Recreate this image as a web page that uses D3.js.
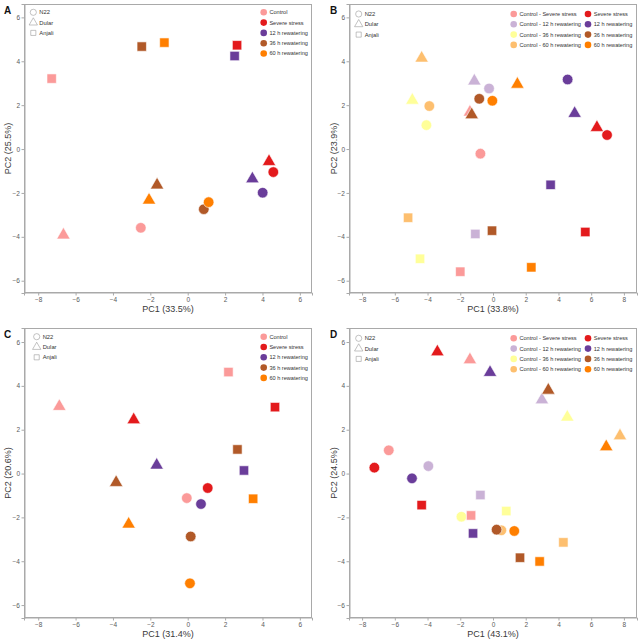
<!DOCTYPE html>
<html><head><meta charset="utf-8">
<script src="https://cdn.jsdelivr.net/npm/d3@7"></script>
<style>body{margin:0;background:#fff}svg{display:block;font-family:"Liberation Sans",Arial,Helvetica,sans-serif}</style>
</head><body><svg id="c" width="642" height="642"></svg>
<script>
// ---------- data ----------
const genotypes = ["N22", "Dular", "Anjali"];
const groupsAC = ["Control", "Severe stress", "12 h rewatering", "36 h rewatering", "60 h rewatering"];
const colorsAC = ["#FB9A99", "#E31A1C", "#6A3D9A", "#B15928", "#FF7F00"];
const groupsBD = ["Control - Severe stress", "Control - 12 h rewatering", "Control - 36 h rewatering", "Control - 60 h rewatering",
                  "Severe stress", "12 h rewatering", "36 h rewatering", "60 h rewatering"];
const colorsBD = ["#FB9A99", "#CAB2D6", "#FFFF99", "#FDBF6F", "#E31A1C", "#6A3D9A", "#B15928", "#FF7F00"];
const xTicksAC = [-8, -6, -4, -2, 0, 2, 4, 6];
const xTicksBD = [-8, -6, -4, -2, 0, 2, 4, 6, 8];
const yTicks = [-6, -4, -2, 0, 2, 4, 6];

// Panel A (PC1 33.5 %, PC2 25.5 %)
const A_genotype = ["N22","N22","N22","N22","N22","Dular","Dular","Dular","Dular","Dular","Anjali","Anjali","Anjali","Anjali","Anjali"];
const A_group = ["Control","Severe stress","12 h rewatering","36 h rewatering","60 h rewatering",
                 "Control","Severe stress","12 h rewatering","36 h rewatering","60 h rewatering",
                 "Control","Severe stress","12 h rewatering","36 h rewatering","60 h rewatering"];
const A_pc1 = [-2.51, 4.58, 4.01, 0.86, 1.12, -6.65, 4.35, 3.46, -1.64, -2.07, -7.28, 2.64, 2.51, -2.46, -1.25];
const A_pc2 = [-3.59, -1.05, -1.99, -2.74, -2.42, -3.92, -0.57, -1.36, -1.64, -2.33, 3.21, 4.73, 4.24, 4.67, 4.85];

// Panel B (PC1 33.8 %, PC2 23.9 %)
const B_genotype = ["N22","N22","N22","N22","N22","N22","N22","N22",
                    "Dular","Dular","Dular","Dular","Dular","Dular","Dular","Dular",
                    "Anjali","Anjali","Anjali","Anjali","Anjali","Anjali","Anjali","Anjali"];
const B_group = [].concat(groupsBD, groupsBD, groupsBD);
const B_pc1 = [-0.77, -0.24, -4.07, -3.89, 6.97, 4.56, -0.84, -0.04,
               -1.41, -1.14, -4.93, -4.36, 6.35, 4.99, -1.30, 1.49,
               -2.00, -1.08, -4.46, -5.19, 5.64, 3.52, -0.06, 2.34];
const B_pc2 = [-0.21, 2.76, 1.09, 1.96, 0.64, 3.17, 2.29, 2.20,
               1.68, 3.10, 2.22, 4.14, 0.98, 1.62, 1.56, 2.95,
               -5.59, -3.87, -5.00, -3.13, -3.78, -1.63, -3.72, -5.39];

// Panel C (PC1 31.4 %, PC2 20.6 %)
const C_genotype = A_genotype.slice();
const C_group = A_group.slice();
const C_pc1 = [-0.05, 1.07, 0.71, 0.16, 0.12, -6.87, -2.89, -1.66, -3.83, -3.16, 2.18, 4.67, 3.01, 2.66, 3.50];
const C_pc2 = [-1.12, -0.66, -1.39, -2.87, -5.01, 3.06, 2.45, 0.38, -0.41, -2.31, 4.63, 3.03, 0.14, 1.10, -1.15];

// Panel D (PC1 43.1 %, PC2 24.5 %)
const D_genotype = B_genotype.slice();
const D_group = B_group.slice();
const D_pc1 = [-6.37, -3.95, -1.93, 0.51, -7.25, -4.95, 0.22, 1.30,
               -1.41, 2.99, 4.54, 7.76, -3.40, -0.18, 3.38, 6.92,
               -1.34, -0.77, 0.81, 4.30, -4.36, -1.22, 1.65, 2.85];
const D_pc2 = [1.06, 0.34, -1.97, -2.59, 0.27, -0.22, -2.56, -2.62,
               5.19, 3.36, 2.57, 1.72, 5.55, 4.61, 3.80, 1.22,
               -1.91, -0.98, -1.71, -3.14, -1.44, -2.73, -3.84, -4.01];

// ---------- drawing ----------
const svg = d3.select("#c");
const symMap = {"N22": d3.symbolCircle, "Dular": d3.symbolTriangle, "Anjali": d3.symbolSquare};
const sizeMap = {"N22": 88, "Dular": 78, "Anjali": 88};

const panels = [
  {letter:"A", box:[24,312,4,293], xd:[-8.76,6.65], yd:[-6.56,6.61], xt:xTicksAC, groups:groupsAC, colors:colorsAC,
   g:A_genotype, grp:A_group, x:A_pc1, y:A_pc2, xl:"PC1 (33.5%)", yl:"PC2 (25.5%)",
   letterPos:[4,13.5], shapeLeg:[33.3,12.3], colLeg:[263.7,12.3], cols:1, ytitleX:10.5},
  {letter:"B", box:[349,637,4,293], xd:[-8.8,8.8], yd:[-6.56,6.61], xt:xTicksBD, groups:groupsBD, colors:colorsBD,
   g:B_genotype, grp:B_group, x:B_pc1, y:B_pc2, xl:"PC1 (33.8%)", yl:"PC2 (23.9%)",
   letterPos:[330,13.5], shapeLeg:[358.7,14], colLeg:[513.7,14], cols:2, ytitleX:337},
  {letter:"C", box:[24,312,328,618], xd:[-8.76,6.65], yd:[-6.59,6.64], xt:xTicksAC, groups:groupsAC, colors:colorsAC,
   g:C_genotype, grp:C_group, x:C_pc1, y:C_pc2, xl:"PC1 (31.4%)", yl:"PC2 (20.6%)",
   letterPos:[4,338], shapeLeg:[36.7,336.7], colLeg:[263.7,336.7], cols:1, ytitleX:10.5},
  {letter:"D", box:[349,637,328,618], xd:[-8.8,8.8], yd:[-6.59,6.64], xt:xTicksBD, groups:groupsBD, colors:colorsBD,
   g:D_genotype, grp:D_group, x:D_pc1, y:D_pc2, xl:"PC1 (43.1%)", yl:"PC2 (24.5%)",
   letterPos:[330,338], shapeLeg:[358.7,338.3], colLeg:[513.7,338.3], cols:2, ytitleX:337}
];

const frameCol = "#a9a9a9", tickCol = "#5a5a5a";

panels.forEach(p => {
  const [L, R, T, B] = p.box;
  const x = d3.scaleLinear().domain(p.xd).range([L, R]);
  const y = d3.scaleLinear().domain(p.yd).range([B, T]);
  const color = d3.scaleOrdinal().domain(p.groups).range(p.colors);
  const g = svg.append("g");

  g.append("rect").attr("x", L + 0.5).attr("y", T + 0.5).attr("width", R - L - 1).attr("height", B - T - 1)
    .attr("fill", "none").attr("stroke", frameCol).attr("stroke-width", 1);

  const ax = g.append("g").attr("transform", `translate(0,${B - 0.5})`)
    .call(d3.axisBottom(x).tickValues(p.xt).tickSize(3).tickPadding(1.5).tickFormat(d3.format("d")));
  const ay = g.append("g").attr("transform", `translate(${L + 0.5},0)`)
    .call(d3.axisLeft(y).tickValues(yTicks).tickSize(3).tickPadding(1.5).tickFormat(d3.format("d")));
  [ax, ay].forEach(a => {
    a.select(".domain").attr("stroke", frameCol);
    a.selectAll(".tick line").attr("stroke", frameCol);
    a.selectAll(".tick text").attr("fill", tickCol).style("font-size", "6.5px").style("font-family", "Liberation Sans, Arial, sans-serif");
  });

  // axis titles
  g.append("text").attr("x", (L + R) / 2).attr("y", B + 18.5).attr("text-anchor", "middle")
    .attr("fill", "#3a3a3a").style("font-size", "9px").text(p.xl);
  g.append("text").attr("transform", `translate(${p.ytitleX},${(T + B) / 2}) rotate(-90)`).attr("text-anchor", "middle")
    .attr("fill", "#3a3a3a").style("font-size", "9px").text(p.yl);

  // panel letter
  g.append("text").attr("x", p.letterPos[0]).attr("y", p.letterPos[1]).attr("font-weight", "bold")
    .attr("fill", "#111").style("font-size", "10px").text(p.letter);

  // points
  const pts = p.x.map((v, i) => ({pc1: v, pc2: p.y[i], gen: p.g[i], grp: p.grp[i]}));
  g.selectAll("path.pt").data(pts).join("path").attr("class", "pt")
    .attr("transform", d => `translate(${x(d.pc1)},${y(d.pc2)})`)
    .attr("d", d => d3.symbol().type(symMap[d.gen]).size(sizeMap[d.gen])())
    .attr("fill", d => color(d.grp)).attr("stroke", "#fff").attr("stroke-width", 0.6);

  // shape legend
  const sl = g.append("g");
  genotypes.forEach((gn, i) => {
    const cy = p.shapeLeg[1] + i * 10.3;
    sl.append("path").attr("transform", `translate(${p.shapeLeg[0]},${cy})`)
      .attr("d", d3.symbol().type(symMap[gn]).size(gn === "Dular" ? 30 : (gn === "Anjali" ? 26 : 30))())
      .attr("fill", "none").attr("stroke", "#9a9a9a").attr("stroke-width", 0.6);
    sl.append("text").attr("x", p.shapeLeg[0] + 6).attr("y", cy).attr("dy", "0.35em")
      .attr("fill", "#333").style("font-size", "5.8px").text(gn);
  });

  // colour legend
  const cl = g.append("g");
  const perCol = p.cols === 2 ? 4 : p.groups.length;
  p.groups.forEach((gr, i) => {
    const col = Math.floor(i / perCol), row = i % perCol;
    const cx = p.colLeg[0] + col * 74.3, cy = p.colLeg[1] + row * 10.3;
    cl.append("circle").attr("cx", cx).attr("cy", cy).attr("r", 3.3).attr("fill", color(gr));
    cl.append("text").attr("x", cx + 5.7).attr("y", cy).attr("dy", "0.35em")
      .attr("fill", "#333").style("font-size", "5.6px").text(gr);
  });
});
</script>
</body></html>
